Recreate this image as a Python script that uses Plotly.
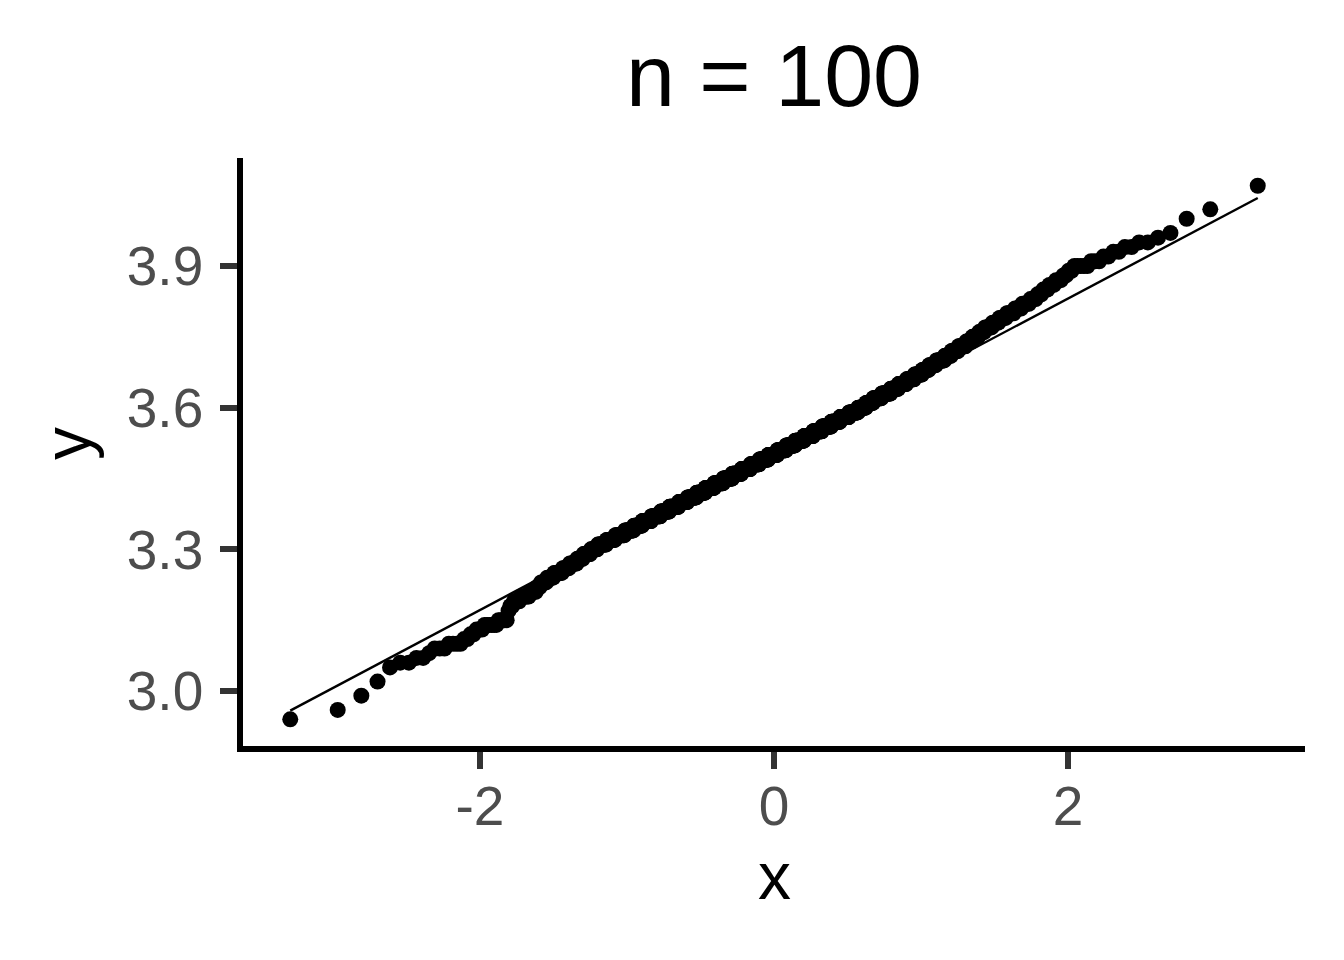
import numpy as np
import plotly.graph_objects as go
from statistics import NormalDist

# Sorted sample values (rounded to 0.01) and how many points sit at each value
sample_values = [2.94, 2.96, 2.99, 3.02, 3.05, 3.06, 3.07, 3.08, 3.09, 3.10, 3.11, 3.12, 3.13, 3.14, 3.15,
                 3.17, 3.18, 3.19, 3.20, 3.21, 3.22, 3.23, 3.24, 3.25, 3.26, 3.27, 3.28, 3.29, 3.30,
                 3.31, 3.32, 3.33, 3.34, 3.35, 3.36, 3.37, 3.38, 3.39, 3.40, 3.41, 3.42, 3.43, 3.44,
                 3.45, 3.46, 3.47, 3.48, 3.49, 3.50, 3.51, 3.52, 3.53, 3.54, 3.55, 3.56, 3.57, 3.58,
                 3.59, 3.60, 3.61, 3.62, 3.63, 3.64, 3.65, 3.66, 3.67, 3.68, 3.69, 3.70, 3.71, 3.72,
                 3.73, 3.74, 3.75, 3.76, 3.77, 3.78, 3.79, 3.80, 3.81, 3.82, 3.83, 3.84, 3.85, 3.86,
                 3.87, 3.88, 3.89, 3.90, 3.91, 3.92, 3.93, 3.94, 3.95, 3.96, 3.97, 4.00, 4.02, 4.07]
sample_counts = [1, 1, 1, 1, 1, 2, 2, 1, 3, 4, 2, 2, 3, 6, 5,
                 1, 2, 4, 6, 5, 3, 5, 6, 8, 7, 8, 7, 9, 9,
                 12, 13, 15, 15, 15, 17, 18, 18, 20, 20, 21, 21, 22, 23,
                 23, 24, 24, 24, 24, 25, 24, 24, 24, 24, 23, 23, 22, 22,
                 21, 18, 16, 18, 18, 15, 15, 14, 13, 11, 11, 12, 9, 9,
                 9, 7, 7, 6, 7, 6, 6, 6, 5, 5, 4, 3, 3, 3,
                 3, 2, 2, 5, 3, 2, 2, 2, 2, 1, 1, 1, 1, 1]

title_text = "n = 100"
x_tickvals = [-2, 0, 2]
x_ticktext = ["-2", "0", "2"]
y_tickvals = [3.0, 3.3, 3.6, 3.9]
y_ticktext = ["3.0", "3.3", "3.6", "3.9"]

# QQ computation
sample = np.sort(np.repeat(np.array(sample_values), np.array(sample_counts)))
n = len(sample)
probs = (np.arange(1, n + 1) - 0.5) / n
nd = NormalDist()
theo = np.array([nd.inv_cdf(p) for p in probs])

# reference line through the quartiles (as stat_qq_line)
q1, q3 = np.quantile(sample, [0.25, 0.75])
z1, z3 = nd.inv_cdf(0.25), nd.inv_cdf(0.75)
slope = (q3 - q1) / (z3 - z1)
intercept = q1 - slope * z1
line_x = np.array([theo.min(), theo.max()])
line_y = intercept + slope * line_x

FONT = "Liberation Sans, Arial, sans-serif"

fig = go.Figure()
fig.add_trace(go.Scatter(x=line_x, y=line_y, mode="lines",
                         line=dict(color="black", width=2.4), showlegend=False, hoverinfo="skip"))
fig.add_trace(go.Scatter(x=theo, y=sample, mode="markers",
                         marker=dict(color="black", size=16, line=dict(width=0)), showlegend=False))

fig.update_layout(
    width=1344, height=960,
    paper_bgcolor="white", plot_bgcolor="white",
    margin=dict(l=243, r=39, t=158, b=214),
    font=dict(family=FONT),
    title=dict(text=title_text, x=0.5, xref="paper", xanchor="center",
               y=1 - 75 / 960, yref="container", yanchor="middle",
               font=dict(size=88, color="black", family=FONT)),
    xaxis=dict(range=[-3.612, 3.612], tickvals=x_tickvals, ticktext=x_ticktext,
               showgrid=False, zeroline=False,
               showline=True, linecolor="black", linewidth=5.5,
               ticks="outside", ticklen=17, tickwidth=5.5, tickcolor="#333333",
               ticklabelstandoff=-10,
               tickfont=dict(size=55, color="#4D4D4D", family=FONT)),
    yaxis=dict(range=[2.8835, 4.1287], tickvals=y_tickvals, ticktext=y_ticktext,
               showgrid=False, zeroline=False,
               showline=True, linecolor="black", linewidth=5.5,
               ticks="outside", ticklen=17, tickwidth=5.5, tickcolor="#333333",
               ticklabelstandoff=6,
               tickfont=dict(size=55, color="#4D4D4D", family=FONT)),
    annotations=[
        dict(text="x", xref="paper", yref="paper", x=0.5, y=0, xanchor="center", yanchor="middle",
             yshift=-130, showarrow=False, font=dict(size=66, color="black", family=FONT)),
        dict(text="y", xref="paper", yref="paper", x=0, y=0.5, xanchor="center", yanchor="middle",
             xshift=-176, yshift=8, textangle=-90, showarrow=False,
             font=dict(size=66, color="black", family=FONT)),
    ],
)

fig.write_html("out.html", config={"displayModeBar": False},
               post_script="document.body.style.margin='0';")
